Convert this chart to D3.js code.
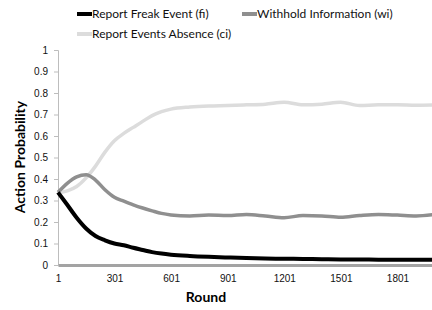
<!DOCTYPE html>
<meta charset="utf-8">
<style>
  html, body { margin: 0; background: #fff; }
  svg { display: block; font-family: Lato, sans-serif; }
  .tick text { font-size: 10px; fill: #111; }
</style>
<body>
<script src="https://d3js.org/d3.v7.min.js"></script>
<script>
// data
var rounds = [1, 50, 100, 150, 200, 250, 300, 350, 400, 450, 500, 550, 600,
  700, 800, 900, 1000, 1100, 1200, 1300, 1400, 1500, 1600, 1700, 1800, 1900, 2000];
var fi = [0.338, 0.28, 0.22, 0.17, 0.135, 0.115, 0.10, 0.092, 0.08, 0.07, 0.06, 0.053, 0.048,
  0.042, 0.038, 0.035, 0.032, 0.030, 0.029, 0.028, 0.027, 0.026, 0.026, 0.025, 0.025, 0.025, 0.025];
var wi = [0.338, 0.38, 0.41, 0.42, 0.395, 0.35, 0.315, 0.297, 0.28, 0.265, 0.252, 0.24, 0.233,
  0.228, 0.232, 0.23, 0.235, 0.228, 0.22, 0.23, 0.228, 0.222, 0.23, 0.235, 0.232, 0.228, 0.235];
var ci = [0.335, 0.345, 0.365, 0.405, 0.46, 0.525, 0.578, 0.612, 0.64, 0.668, 0.695, 0.713, 0.725,
  0.735, 0.74, 0.742, 0.745, 0.748, 0.757, 0.745, 0.748, 0.757, 0.742, 0.745, 0.745, 0.743, 0.744];
var xTicks = [1, 301, 601, 901, 1201, 1501, 1801];
var yTicks = [0, 0.1, 0.2, 0.3, 0.4, 0.5, 0.6, 0.7, 0.8, 0.9, 1];

var series = [
  { name: "Report Freak Event (fi)", values: fi, color: "#000", width: 4 },
  { name: "Withhold Information (wi)", values: wi, color: "#8f8f8f", width: 3.5 },
  { name: "Report Events Absence (ci)", values: ci, color: "#dcdcdc", width: 3.5 }
];

var width = 432, height = 310;
var svg = d3.select("body").append("svg")
  .attr("width", width)
  .attr("height", height);

var x = d3.scaleLinear().domain([1, 2000]).range([58, 435]);
var y = d3.scaleLinear().domain([0, 1]).range([265, 50]);

// y axis
var gy = svg.append("g")
  .attr("transform", "translate(58,0)")
  .call(d3.axisLeft(y).tickValues(yTicks).tickSize(4).tickPadding(6)
    .tickFormat(function (d) { return d === 0 || d === 1 ? d : d3.format(".1f")(d); }));
gy.selectAll("line, path").attr("stroke", "#bdbdbd");

// x axis
var gx = svg.append("g")
  .attr("transform", "translate(0,265)")
  .call(d3.axisBottom(x).tickValues(xTicks).tickSize(0).tickPadding(10)
    .tickFormat(d3.format("d")));
gx.select("path").attr("stroke", "#a3a3a3").attr("stroke-width", 3);

// lines
var line = d3.line()
  .x(function (d, i) { return x(rounds[i]); })
  .y(function (d) { return y(d); })
  .curve(d3.curveMonotoneX);

series.slice().reverse().forEach(function (s) {
  svg.append("path")
    .attr("d", line(s.values))
    .attr("fill", "none")
    .attr("stroke", s.color)
    .attr("stroke-width", s.width)
    .attr("stroke-linejoin", "round");
});

// legend
var legendPos = [[77, 14], [242, 14], [77, 34]];
series.forEach(function (s, i) {
  var p = legendPos[i];
  svg.append("line")
    .attr("x1", p[0]).attr("x2", p[0] + 15)
    .attr("y1", p[1]).attr("y2", p[1])
    .attr("stroke", s.color).attr("stroke-width", 4);
  svg.append("text")
    .attr("x", p[0] + 15).attr("y", p[1] + 4)
    .attr("font-size", 12).attr("fill", "#111")
    .text(s.name);
});

// axis titles
svg.append("text")
  .attr("transform", "translate(25,157) rotate(-90)")
  .attr("text-anchor", "middle")
  .attr("font-size", 14).attr("font-weight", "bold")
  .text("Action Probability");

svg.append("text")
  .attr("x", 206).attr("y", 302)
  .attr("text-anchor", "middle")
  .attr("font-size", 14).attr("font-weight", "bold")
  .text("Round");
</script>
</body>
